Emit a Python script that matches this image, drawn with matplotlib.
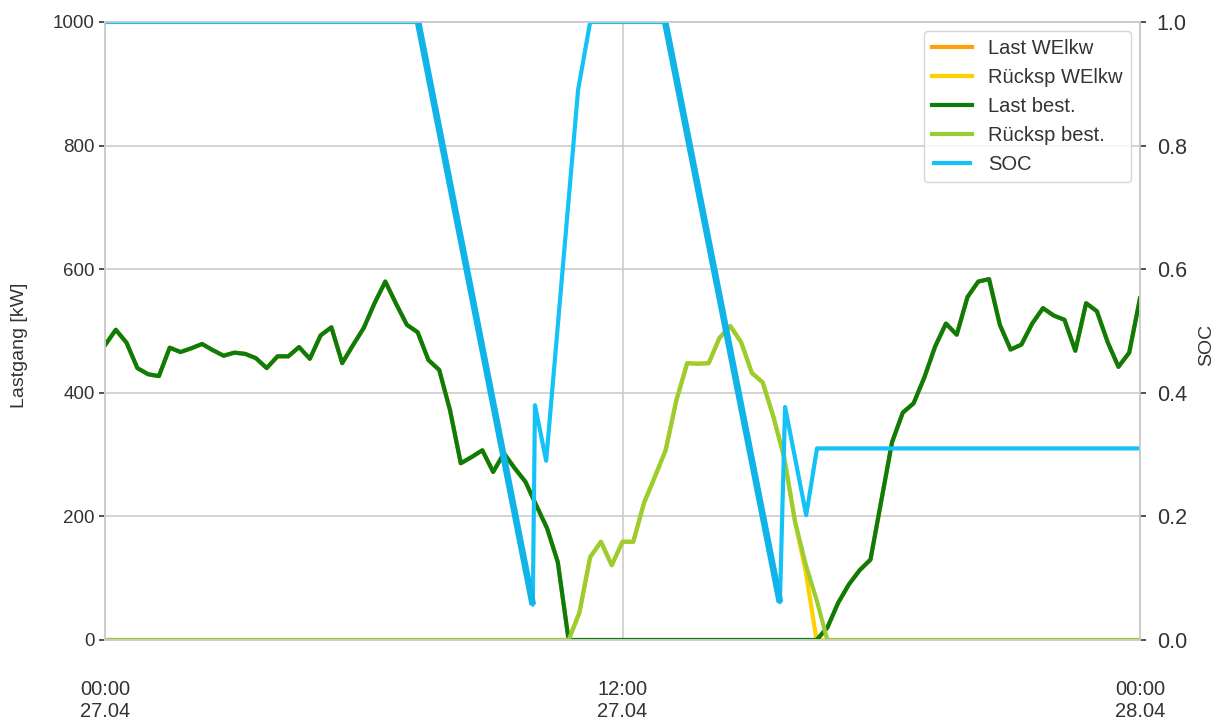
import numpy as np
import pandas as pd
import matplotlib
matplotlib.use("Agg")
import matplotlib.pyplot as plt
import matplotlib.dates as mdates

plt.rcParams["font.family"] = ["Liberation Sans", "DejaVu Sans"]
plt.rcParams["font.size"] = 13

# 15-min load profile values [kW], 27.04 00:00 .. 28.04 00:00
last_best = [477, 502, 481, 440, 430, 427, 473, 466, 472, 479,
             469, 460, 465, 463, 456, 440, 459, 459, 474, 455,
             493, 506, 448, 477, 505, 545, 580, 544, 510, 498,
             453, 437, 372, 286, 296, 307, 272, 302, 278, 256,
             218, 181, 126, 0, 0, 0, 0, 0, 0, 0,
             0, 0, 0, 0, 0, 0, 0, 0, 0, 0,
             0, 0, 0, 0, 0, 0, 0, 20, 60, 90,
             113, 130, 225, 320, 368, 383, 425, 475, 512, 494,
             555, 580, 584, 510, 470, 478, 512, 537, 525, 518,
             468, 545, 532, 482, 442, 465, 553]

rueck_best = [0, 0, 0, 0, 0, 0, 0, 0, 0, 0,
              0, 0, 0, 0, 0, 0, 0, 0, 0, 0,
              0, 0, 0, 0, 0, 0, 0, 0, 0, 0,
              0, 0, 0, 0, 0, 0, 0, 0, 0, 0,
              0, 0, 0, 0, 44, 134, 159, 121, 159, 159,
              222, 264, 307, 388, 448, 447, 448, 489, 508, 482,
              432, 417, 361, 295, 192, 122, 65, 0, 0, 0,
              0, 0, 0, 0, 0, 0, 0, 0, 0, 0,
              0, 0, 0, 0, 0, 0, 0, 0, 0, 0,
              0, 0, 0, 0, 0, 0, 0]

last_welkw = list(last_best)
rueck_welkw = list(rueck_best)
rueck_welkw[65] = 110
rueck_welkw[66] = 0

# state of charge, hours after 27.04 00:00
soc_hours = [0, 7.26, 9.92, 9.97, 10.23, 10.97, 11.25, 12.99, 15.65, 15.77, 16.26, 16.51, 24]
soc_values = [1.0, 1.0, 0.057, 0.38, 0.29, 0.89, 1.0, 1.0, 0.061, 0.377, 0.202, 0.31, 0.31]

start = pd.Timestamp("2024-04-27 00:00")
t = pd.date_range(start, periods=len(last_best), freq="15min")
t_soc = start + pd.to_timedelta(soc_hours, unit="h")

fig = plt.figure(figsize=(12.22, 7.22), dpi=100)
ax = fig.add_axes([105 / 1222, 1 - 640 / 722, (1140 - 105) / 1222, (640 - 22) / 722])
ax2 = ax.twinx()

lw = 3.0
ax.plot(t, last_welkw, color="#ff9f0a", lw=lw, label="Last WElkw")
ax.plot(t, rueck_welkw, color="#ffd000", lw=lw, label="Rücksp WElkw")
ax.plot(t, last_best, color="#0a7d0a", lw=lw, label="Last best.")
ax.plot(t, rueck_best, color="#9acd32", lw=lw, label="Rücksp best.")
ax2.plot(t_soc, soc_values, color="#14c2f7", lw=lw, label="SOC", solid_capstyle="butt")
# the long linear discharge stretches render thicker
for i in (1, 7):
    ax2.plot(t_soc[i:i + 2], soc_values[i:i + 2], color="#10b4e8", lw=4.8, solid_capstyle="butt")

ax.set_ylim(0, 1000)
ax2.set_ylim(0, 1)
ax.set_yticks(np.arange(0, 1001, 200))
ax2.set_yticks(np.arange(0, 1.01, 0.2))
ax.set_xlim(t[0], t[-1])
ax.xaxis.set_major_locator(mdates.HourLocator(byhour=[0, 12]))
ax.xaxis.set_major_formatter(mdates.DateFormatter("%H:%M\n%d.%m"))

ax.set_ylabel("Lastgang [kW]", color="#333333", fontsize=14)
ax2.set_ylabel("SOC", color="#333333", fontsize=14)
ax.yaxis.set_label_coords(-0.074, 0.477)
ax2.yaxis.set_label_coords(1.056, 0.477)

ax.grid(True, color="#cccccc", lw=1.2)
ax2.grid(False)
for a in (ax, ax2):
    for s in a.spines.values():
        s.set_color("#cccccc")
        s.set_linewidth(1.2)
    a.tick_params(colors="#333333", length=4, width=1.2)
ax.tick_params(axis="y", labelsize=13.5)
ax2.tick_params(axis="y", labelsize=15.5, pad=8)
ax.tick_params(axis="x", pad=29, length=0, labelsize=14.5)

h1, l1 = ax.get_legend_handles_labels()
h2, l2 = ax2.get_legend_handles_labels()
leg = ax2.legend(h1 + h2, l1 + l2, loc="upper right", fontsize=14.5,
                 labelspacing=0.5, handlelength=2.0, frameon=True,
                 fancybox=True, edgecolor="#cccccc", borderaxespad=0.45)
for txt in leg.get_texts():
    txt.set_color("#333333")

fig.savefig("out.png", dpi=100)
